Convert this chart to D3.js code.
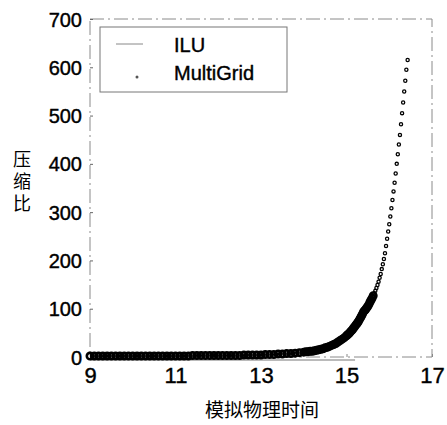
<!DOCTYPE html>
<html>
<head>
<meta charset="utf-8">
<script src="https://cdn.jsdelivr.net/npm/d3@7"></script>
<style>
  body { margin: 0; background: #fff; }
  svg { display: block; }
  .tick text { font-family: "Liberation Sans", Arial, sans-serif; fill: #000; stroke: #000; stroke-width: 0.4px; }
</style>
</head>
<body>
<div id="chart"></div>
<script>
// values
const xTicks = [9, 11, 13, 15, 17];
const yTicks = [0, 100, 200, 300, 400, 500, 600, 700];

const mgTime = [
  9.0, 9.1, 9.2, 9.3, 9.4, 9.5, 9.6, 9.7, 9.8, 9.9,
  10.0, 10.1, 10.2, 10.3, 10.4, 10.5, 10.6, 10.7, 10.8, 10.9,
  11.0, 11.1, 11.2, 11.3, 11.4, 11.5, 11.6, 11.7, 11.8, 11.9,
  12.0, 12.1, 12.2, 12.3, 12.4, 12.5, 12.6, 12.7, 12.8, 12.9,
  13.0, 13.1, 13.2, 13.3, 13.4, 13.5, 13.6, 13.7, 13.8, 13.9,
  14.0, 14.05, 14.1, 14.15, 14.2, 14.25, 14.3, 14.35, 14.4, 14.45,
  14.5, 14.55, 14.6, 14.65, 14.7, 14.75, 14.8, 14.85, 14.9, 14.95,
  15.0, 15.025, 15.05, 15.075, 15.1, 15.125, 15.15, 15.175, 15.2, 15.225,
  15.25, 15.275, 15.3, 15.325, 15.35, 15.375, 15.4, 15.425, 15.45, 15.475,
  15.5, 15.525, 15.55, 15.575, 15.6, 15.625, 15.65, 15.675, 15.7, 15.725,
  15.75, 15.775, 15.8, 15.825, 15.85, 15.875, 15.9, 15.925, 15.95, 15.975,
  16.0, 16.025, 16.05, 16.075, 16.1, 16.125, 16.15, 16.175, 16.2, 16.225,
  16.25, 16.275, 16.3, 16.325, 16.35, 16.375, 16.4, 16.43
];
const mgRatio = [
  2, 2, 2, 2, 2, 2, 2, 2, 2, 2,
  2, 2, 2, 2, 2, 2, 2, 2, 2, 2,
  2, 2, 2, 2, 3, 3, 3, 3, 3, 3,
  3, 3, 3, 3, 3, 3, 4, 4, 4, 4,
  4, 5, 5, 5, 6, 6, 7, 7, 8, 9,
  10, 11, 11, 12, 12, 13, 14, 15, 16, 17,
  19, 20, 22, 24, 26, 28, 31, 34, 37, 40,
  44, 46, 48, 50, 53, 55, 58, 61, 64, 67,
  70, 73, 77, 81, 85, 89, 94, 96, 99, 102,
  105, 109, 114, 118, 122, 127, 132, 137, 143, 149,
  156, 164, 172, 182, 192, 203, 215, 230, 245, 260,
  275, 291, 308, 325, 343, 361, 380, 400, 420, 440,
  460, 482, 505, 527, 550, 572, 595, 615
];

const iluTime = [9, 11, 13, 15.2];
const iluRatio = [0, 0, 0, 0];

const legendNames = ["ILU", "MultiGrid"];

const width = 447, height = 425;
const margin = {top: 19, right: 15, bottom: 68, left: 90};

const svg = d3.select("#chart").append("svg")
    .attr("width", width)
    .attr("height", height);

const x = d3.scaleLinear().domain([9, 17]).range([margin.left, width - margin.right]);
const y = d3.scaleLinear().domain([0, 700]).range([height - margin.bottom, margin.top]);

// frame (faded in the scan, so light and broken)
svg.append("rect")
    .attr("x", x(9)).attr("y", y(700))
    .attr("width", x(17) - x(9)).attr("height", y(0) - y(700))
    .attr("fill", "none")
    .attr("stroke", "#8a8a8a")
    .attr("stroke-width", 1)
    .attr("stroke-dasharray", "14,4,2,4");

// axes
const xAxis = svg.append("g")
    .attr("transform", "translate(0," + y(0) + ")")
    .call(d3.axisBottom(x).tickValues(xTicks).tickSize(-3).tickPadding(10).tickFormat(d3.format("d")));
xAxis.select(".domain").remove();
xAxis.selectAll("line").attr("stroke", "#888");
xAxis.selectAll("text").style("font-size", "22px");

const yAxis = svg.append("g")
    .attr("transform", "translate(" + x(9) + ",0)")
    .call(d3.axisLeft(y).tickValues(yTicks).tickSize(-3).tickPadding(8).tickFormat(d3.format("d")));
yAxis.select(".domain").remove();
yAxis.selectAll("line").attr("stroke", "#666");
yAxis.selectAll("text").style("font-size", "20px").attr("dy", "0.35em");

// ILU line
const iluData = iluTime.map((t, i) => [t, iluRatio[i]]);
svg.append("path")
    .datum(iluData)
    .attr("fill", "none")
    .attr("stroke", "#777")
    .attr("stroke-width", 1)
    .attr("d", d3.line().x(d => x(d[0])).y(d => y(d[1]) + 3));

// MultiGrid markers
const mgData = mgTime.map((t, i) => ({t: t, r: mgRatio[i]}));
svg.append("g").selectAll("circle")
    .data(mgData)
    .enter().append("circle")
    .attr("cx", d => x(d.t))
    .attr("cy", d => y(d.r))
    .attr("r", d => d.r > 130 ? 1.6 : 3.2)
    .attr("fill", "none")
    .attr("stroke", "#000")
    .attr("stroke-width", d => d.r > 130 ? 1.3 : 2.6);

// legend
const lg = svg.append("g");
lg.append("rect")
    .attr("x", 100).attr("y", 27)
    .attr("width", 187).attr("height", 65)
    .attr("fill", "#fff")
    .attr("stroke", "#777")
    .attr("stroke-width", 1);
lg.append("line")
    .attr("x1", 116).attr("x2", 143)
    .attr("y1", 44).attr("y2", 44)
    .attr("stroke", "#888").attr("stroke-width", 1);
lg.append("circle")
    .attr("cx", 137).attr("cy", 77).attr("r", 1.5)
    .attr("fill", "#555");
lg.selectAll("text.leg")
    .data(legendNames)
    .enter().append("text")
    .attr("class", "leg")
    .attr("x", 174)
    .attr("y", (d, i) => 52 + i * 28)
    .style("font-family", "'Liberation Sans', Arial, sans-serif")
    .style("font-size", "20px")
    .style("stroke", "#000")
    .style("stroke-width", "0.4px")
    .text(d => d);

// axis titles
svg.append("text")
    .attr("x", 22)
    .attr("y", 150)
    .style("writing-mode", "vertical-rl")
    .style("text-orientation", "upright")
    .style("letter-spacing", "4px")
    .style("font-family", "'Noto Sans CJK SC', sans-serif")
    .style("font-size", "18px")
    .text("压缩比");

svg.append("text")
    .attr("x", 262)
    .attr("y", 417)
    .attr("text-anchor", "middle")
    .style("font-family", "'Noto Sans CJK SC', sans-serif")
    .style("font-size", "19px")
    .text("模拟物理时间");
</script>
</body>
</html>
